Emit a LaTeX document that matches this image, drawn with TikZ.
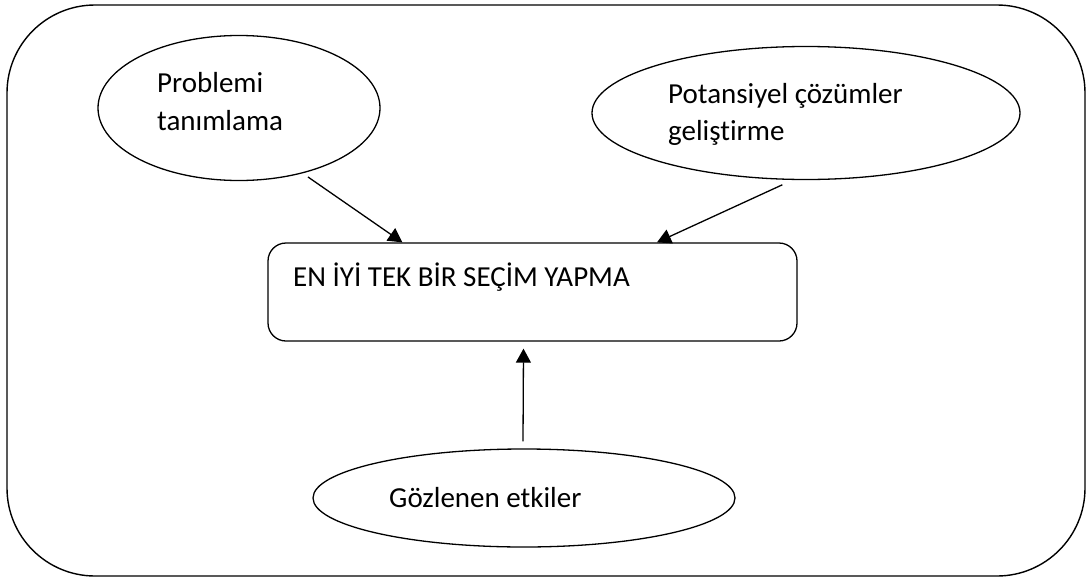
\documentclass[tikz,border=0pt]{standalone}
\usepackage{fontspec}
\setmainfont{Carlito}[Ligatures=NoCommon]
\usetikzlibrary{shapes.geometric,arrows.meta}
\tikzset{
  outerFrame/.style={draw, line width=1.4pt, rounded corners=88pt},
  ovalNode/.style={draw, ellipse, line width=1.3pt, inner sep=0pt},
  choiceBox/.style={draw, rectangle, line width=1.3pt, rounded corners=18pt, inner sep=0pt},
  ovalText/.style={font=\fontsize{29}{38}\selectfont, anchor=base west, inner sep=0pt},
  flowArrow/.style={line width=1.3pt, -{Triangle[length=14pt,width=15pt]}}
}
\begin{document}
\begin{tikzpicture}[x=1pt,y=-1pt]
  \useasboundingbox (0,0) rectangle (1087,581);
  \draw[outerFrame] (7,5) rectangle (1085,576);

  \node[ovalNode, minimum width=282pt, minimum height=145pt] (prob) at (239,108) {};
  \node[ovalNode, minimum width=428pt, minimum height=133pt] (pot) at (806,113) {};
  \node[ovalNode, minimum width=422pt, minimum height=98pt] (gozlem) at (524,498) {};
  \node[choiceBox, minimum width=529pt, minimum height=98pt] (secim) at (532.5,292) {};

  \node[ovalText] (probA) at (157,92) {Problemi};
  \node[ovalText] (probB) at (157,130) {tanımlama};
  \node[ovalText] (potA) at (668,103) {Potansiyel çözümler};
  \node[ovalText] (potB) at (668,140) {geliştirme};
  \node[ovalText] (secimText) at (293,286) {EN İYİ TEK BİR SEÇİM YAPMA};
  \node[ovalText] (gozlemText) at (389,507) {Gözlenen etkiler};

  \draw[flowArrow] ([xshift=4pt,yshift=-4pt]prob.-45) -- ([xshift=135pt]secim.north west);
  \draw[flowArrow] ([xshift=-2pt,yshift=-5pt]pot.-108) -- ([xshift=124.5pt]secim.north);
  \draw[flowArrow] ([xshift=-1pt,yshift=7pt]gozlem.north) -- ([xshift=-9pt,yshift=-7pt]secim.south);
\end{tikzpicture}
\end{document}
